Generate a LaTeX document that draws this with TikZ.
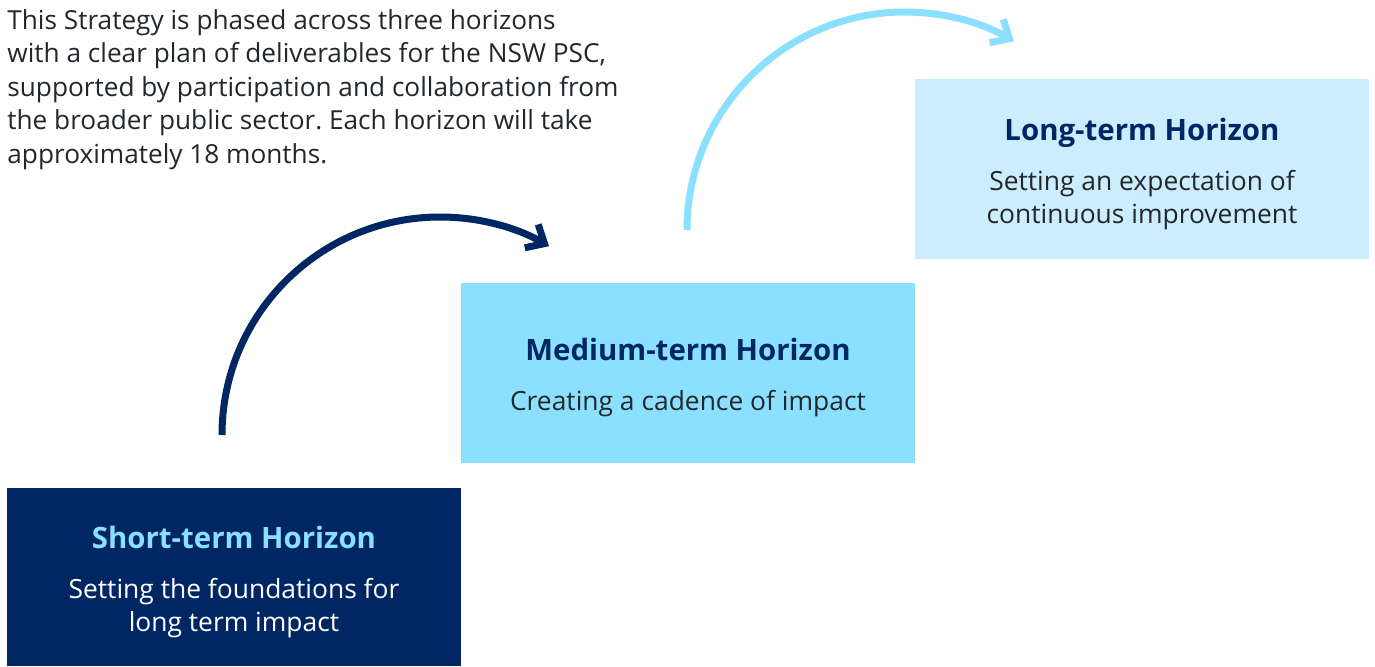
\documentclass[tikz,border=0pt]{standalone}
\usepackage{fontspec}
\setmainfont{Open Sans}
\usepackage{xcolor}
\usetikzlibrary{arrows.meta,positioning}
\definecolor{nswnavy}{RGB}{0,38,100}
\definecolor{nswsky}{RGB}{140,224,255}
\definecolor{nswpale}{RGB}{203,237,253}
\definecolor{textgrey}{RGB}{34,39,43}
\frenchspacing

\tikzset{
  horizonbox/.style={minimum width=227pt, minimum height=90pt, inner sep=0pt, outer sep=0pt,
    align=center, font=\fontsize{13.2}{16.5}\selectfont},
  horizonarc/.style={line width=3.5pt, -{Straight Barb[length=7.5pt,width=13.5pt]}},
}
\newcommand{\horizontitle}[2]{{\color{#1}\fontsize{14.7}{16}\selectfont\bfseries\rule{0pt}{16pt}#2}\\[8.5pt]}

\begin{document}
\begin{tikzpicture}[x=0.5pt, y=0.5pt]
        \useasboundingbox (0,0) rectangle (1375,666);
        % Intro text
        \node[anchor=north west, inner sep=0pt, align=left, text=textgrey,
              font=\fontsize{13.1}{16.75}\selectfont] (intro) at (7,657)
            {This Strategy is phased across three horizons\\
             with a clear plan of deliverables for the NSW PSC,\\
             supported by participation and collaboration from\\
             the broader public sector. Each horizon will take\\
             approximately 18 months.};
        % Horizons
        \node[horizonbox, minimum height=89pt, fill=nswnavy, text=white, anchor=south west] (short) at (7,0)
            {\horizontitle{nswsky}{Short-term Horizon}Setting the foundations for\\long term impact};
        \node[horizonbox, fill=nswsky, text=textgrey, above right=12.5pt and 0pt of short] (medium)
            {\horizontitle{nswnavy}{Medium-term Horizon}Creating a cadence of impact};
        \node[horizonbox, fill=nswpale, text=textgrey, above right=12pt and 0pt of medium] (long)
            {\horizontitle{nswnavy}{Long-term Horizon}Setting an expectation of\\continuous improvement};
        % Arcs
        \coordinate (darkstart) at (222,231);
        \coordinate (lightstart) at (687,436);
        \draw[horizonarc, nswnavy] (darkstart) arc[start angle=180, end angle=60, radius=109pt];
        \draw[horizonarc, nswsky] (lightstart) arc[start angle=180, end angle=60, radius=109pt];
    \end{tikzpicture}
\end{document}
